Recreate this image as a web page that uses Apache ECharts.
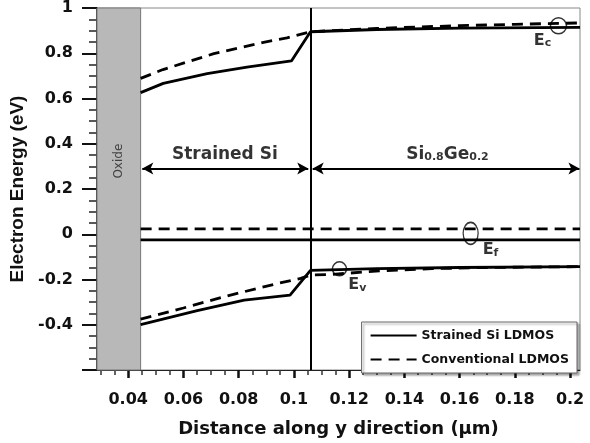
<!DOCTYPE html>
<html>
<head>
<meta charset="utf-8">
<script src="https://cdn.jsdelivr.net/npm/echarts@6/dist/echarts.min.js"></script>
<style>
  html, body { margin: 0; padding: 0; background: #fff; }
  #main { width: 590px; height: 443px; }
</style>
</head>
<body>
<div id="main"></div>
<script>
// x ticks / labels (um)
var xTicks = [0.04, 0.06, 0.08, 0.1, 0.12, 0.14, 0.16, 0.18, 0.2];

// conduction band Ec
var ecStrainedX = [0.0445, 0.0527, 0.0686, 0.083, 0.0991, 0.106, 0.13, 0.16, 0.2036];
var ecStrainedY = [0.626, 0.667, 0.71, 0.739, 0.766, 0.895, 0.905, 0.911, 0.914];
var ecConvX = [0.0445, 0.0526, 0.071, 0.089, 0.0975, 0.106, 0.13, 0.16, 0.18, 0.2036];
var ecConvY = [0.689, 0.728, 0.798, 0.848, 0.868, 0.895, 0.91, 0.922, 0.928, 0.934];

// fermi level Ef
var efX = [0.0445, 0.2036];
var efStrainedY = [-0.025, -0.025];
var efConvY = [0.024, 0.024];

// valence band Ev
var evStrainedX = [0.0445, 0.065, 0.082, 0.0986, 0.106, 0.13, 0.16, 0.2036];
var evStrainedY = [-0.399, -0.338, -0.291, -0.269, -0.16, -0.152, -0.147, -0.143];
var evConvX = [0.0445, 0.06, 0.076, 0.094, 0.1025, 0.106, 0.113, 0.131, 0.15, 0.17, 0.2036];
var evConvY = [-0.375, -0.326, -0.272, -0.218, -0.195, -0.18, -0.178, -0.162, -0.152, -0.147, -0.143];

// regions
var oxideEnd = 0.0445;
var interfaceX = 0.106;

function pairs(xs, ys) {
  var out = [];
  for (var i = 0; i < xs.length; i++) out.push([xs[i], ys[i]]);
  return out;
}

// minor ticks every 0.005
var xMinor = [];
for (var t = 0.03; t <= 0.2036; t += 0.005) {
  var v = +t.toFixed(3);
  if (xTicks.indexOf(v) < 0) xMinor.push(v);
}

var chart = echarts.init(document.getElementById('main'), null, { renderer: 'canvas' });

var solid = { color: '#000', width: 2.8, type: 'solid' };
var dashed = { color: '#000', width: 2.8, type: [11, 7] };

function lineSeries(name, data, style) {
  return {
    name: name, type: 'line', data: data, symbol: 'none',
    lineStyle: style, itemStyle: { color: '#000' }, z: 3
  };
}

var option = {
  animation: false,
  grid: { left: 97, right: 10, top: 7, bottom: 70, show: true, borderColor: '#888', borderWidth: 1 },
  legend: {
    data: ['Strained Si LDMOS', 'Conventional LDMOS'],
    orient: 'vertical', right: 13, top: 322,
    itemWidth: 46, itemHeight: 10, itemGap: 11,
    padding: [7, 8, 7, 8],
    itemStyle: { opacity: 0 },
    lineStyle: { width: 2 },
    backgroundColor: '#fff', borderColor: '#666', borderWidth: 1,
    shadowColor: 'rgba(0,0,0,0.35)', shadowOffsetX: 2, shadowOffsetY: 2, shadowBlur: 2,
    textStyle: { fontFamily: 'DejaVu Sans', fontWeight: 'bold', fontSize: 12.5, color: '#111' }
  },
  xAxis: [{
    type: 'value', min: 0.0287, max: 0.2036,
    name: 'Distance along y direction (\u03bcm)', nameLocation: 'middle', nameGap: 50,
    nameTextStyle: { fontFamily: 'DejaVu Sans', fontWeight: 'bold', fontSize: 18, color: '#111' },
    axisLine: { show: true, onZero: false, lineStyle: { color: '#222', width: 1 } },
    axisTick: { show: true, customValues: xTicks, length: 8, lineStyle: { color: '#111', width: 2.5 } },
    axisLabel: {
      customValues: xTicks, margin: 22, fontFamily: 'DejaVu Sans', fontWeight: 'bold', fontSize: 16, color: '#111',
      formatter: function (v) { return String(+v.toFixed(2)); }
    },
    splitLine: { show: false }
  }, {
    type: 'value', min: 0.0287, max: 0.2036, position: 'bottom',
    axisLine: { show: false, onZero: false },
    axisTick: { show: true, customValues: xMinor, length: 5, lineStyle: { color: '#333', width: 1.5 } },
    axisLabel: { show: false },
    splitLine: { show: false }
  }],
  yAxis: {
    type: 'value', min: -0.6, max: 1, interval: 0.2,
    name: 'Electron Energy (eV)', nameLocation: 'middle', nameGap: 69,
    nameTextStyle: { fontFamily: 'Liberation Sans', fontWeight: 'bold', fontSize: 19, color: '#111' },
    axisLine: { show: true, onZero: false, lineStyle: { color: '#111', width: 1.5 } },
    axisTick: { show: true, length: 15, lineStyle: { color: '#111', width: 2 } },
    minorTick: { show: true, splitNumber: 4, length: 8, lineStyle: { color: '#222', width: 1.5 } },
    axisLabel: {
      margin: 24, fontFamily: 'DejaVu Sans', fontWeight: 'bold', fontSize: 16, color: '#111',
      formatter: function (v) { return Math.abs(v + 0.6) < 1e-6 ? '' : String(+v.toFixed(1)); }
    },
    splitLine: { show: false },
    minorSplitLine: { show: false }
  },
  series: [
    {
      name: 'regions', type: 'line', data: [], symbol: 'none', silent: true,
      markArea: {
        silent: true,
        itemStyle: { color: '#b8b8b8', borderColor: '#777', borderWidth: 1 },
        label: { show: false },
        data: [[{ xAxis: 0.0287, yAxis: -0.6 }, { xAxis: oxideEnd, yAxis: 1 }]]
      },
      markLine: {
        silent: true, symbol: ['arrow', 'arrow'], symbolSize: [9, 11],
        lineStyle: { color: '#000', width: 2, type: 'solid' },
        label: { show: false },
        data: [
          [{ coord: [interfaceX, -0.6], symbol: 'none' }, { coord: [interfaceX, 1], symbol: 'none' }],
          [{ coord: [oxideEnd + 0.0006, 0.291] }, { coord: [interfaceX - 0.0008, 0.291] }],
          [{ coord: [interfaceX + 0.0008, 0.291] }, { coord: [0.2034, 0.291] }]
        ]
      }
    },
    lineSeries('Strained Si LDMOS', pairs(ecStrainedX, ecStrainedY), solid),
    lineSeries('Conventional LDMOS', pairs(ecConvX, ecConvY), dashed),
    lineSeries('Strained Si LDMOS', pairs(efX, efStrainedY), solid),
    lineSeries('Conventional LDMOS', pairs(efX, efConvY), dashed),
    lineSeries('Strained Si LDMOS', pairs(evStrainedX, evStrainedY), solid),
    lineSeries('Conventional LDMOS', pairs(evConvX, evConvY), dashed),
    {
      name: 'notes', type: 'scatter', silent: true, z: 5,
      itemStyle: { color: 'rgba(0,0,0,0)', borderColor: '#000', borderWidth: 1.5 },
      label: {
        show: true, position: 'inside', color: '#000',
        rich: {
          E: { fontFamily: 'DejaVu Sans', fontWeight: 'bold', fontSize: 16, color: '#000' },
          s: { fontFamily: 'DejaVu Sans', fontWeight: 'bold', fontSize: 11, color: '#000', padding: [6, 0, 0, 0] },
          big: { fontFamily: 'DejaVu Sans', fontWeight: 'bold', fontSize: 17, color: '#000' },
          sm: { fontFamily: 'DejaVu Sans', fontWeight: 'bold', fontSize: 11, color: '#000', padding: [5, 0, 0, 0] },
          ox: { fontFamily: 'DejaVu Sans', fontSize: 12, color: '#222' }
        },
        formatter: function (p) { return p.data.text || ''; }
      },
      data: [
        { value: [0.1958, 0.921], symbolSize: 16 },
        { value: [0.164, 0.004], symbolSize: [15, 22] },
        { value: [0.1165, -0.153], symbolSize: 14 },
        { value: [0.190, 0.856], symbolSize: 0, text: '{E|E}{s|c}' },
        { value: [0.1712, -0.070], symbolSize: 0, text: '{E|E}{s|f}' },
        { value: [0.123, -0.223], symbolSize: 0, text: '{E|E}{s|v}' },
        { value: [0.075, 0.354], symbolSize: 0, text: '{big|Strained Si}' },
        { value: [0.1556, 0.354], symbolSize: 0, text: '{big|Si}{sm|0.8}{big|Ge}{sm|0.2}' },
        { value: [0.0368, 0.323], symbolSize: 0, text: '{ox|Oxide}', label: { rotate: 90 } }
      ]
    }
  ]
};

chart.setOption(option);
</script>
</body>
</html>
